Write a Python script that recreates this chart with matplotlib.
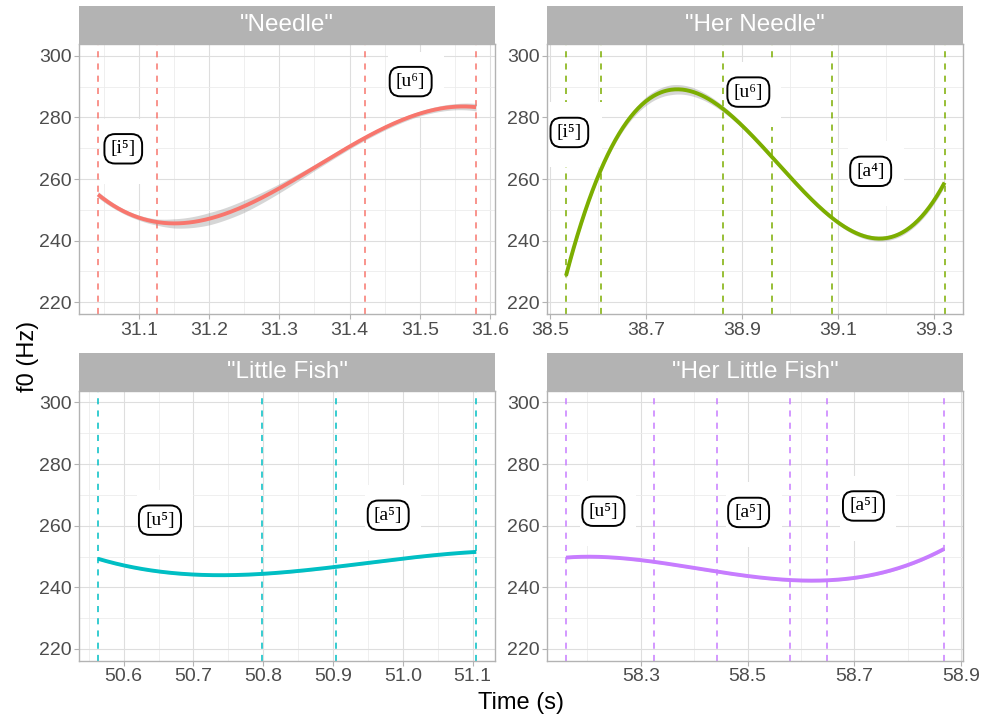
import numpy as np
import matplotlib
matplotlib.use("Agg")
import matplotlib.pyplot as plt
from matplotlib.patches import Rectangle
from matplotlib.transforms import Affine2D, ScaledTranslation

plt.rcParams['font.family'] = ['Liberation Sans', 'DejaVu Sans']

# ---- data ------------------------------------------------------------------
titles = ['"Needle"', '"Her Needle"', '"Little Fish"', '"Her Little Fish"']
colors = ['#F8766D', '#7CAE00', '#00BFC4', '#C77CFF']

# f0 contour (s, Hz)
needle_t = [31.042, 31.07, 31.1, 31.126, 31.15, 31.2, 31.25, 31.3, 31.35, 31.4, 31.45, 31.5, 31.55, 31.58]
needle_f0 = [254.6, 250.6, 248.0, 246.2, 245.6, 247.0, 250.8, 256.7, 263.8, 270.8, 276.8, 281.1, 283.4, 283.3]
needle_se = [1.0, 0.8, 0.8, 1.0, 1.5, 2.0, 2.0, 1.5, 1.0, 0.8, 0.8, 0.8, 1.0, 1.2]

herneedle_t = [38.533, 38.5706, 38.6055, 38.65, 38.7, 38.752, 38.8, 38.861, 38.9, 38.963, 39.0, 39.087, 39.15, 39.188, 39.25, 39.322]
herneedle_f0 = [229.0, 247.5, 263.2, 276.8, 286.0, 288.4, 287.1, 282.2, 278.4, 267.6, 261.1, 246.4, 241.2, 240.5, 245.5, 258.4]
herneedle_se = [1.2, 1.0, 0.8, 1.0, 1.4, 1.6, 1.4, 1.0, 0.8, 0.7, 0.7, 0.7, 0.8, 0.8, 0.9, 1.2]

fish_t = [50.563, 50.6, 50.65, 50.7, 50.743, 50.8, 50.85, 50.9, 50.95, 51.0, 51.05, 51.105]
fish_f0 = [249.1, 247.3, 245.4, 244.1, 243.7, 244.3, 245.4, 246.6, 248.0, 249.3, 250.5, 251.5]
fish_se = [0.4] * 12

herfish_t = [58.16, 58.2, 58.25, 58.3255, 58.4, 58.4424, 58.5, 58.58, 58.61, 58.65, 58.7, 58.75, 58.8, 58.868]
herfish_f0 = [249.7, 249.9, 249.6, 248.3, 246.3, 245.1, 243.8, 242.4, 242.1, 242.2, 243.0, 244.8, 247.3, 252.4]
herfish_se = [0.4] * 14

# segment boundaries (dashed lines)
needle_bounds = [31.042, 31.126, 31.422, 31.580]
herneedle_bounds = [38.533, 38.6055, 38.861, 38.963, 39.087, 39.322]
fish_bounds = [50.563, 50.7975, 50.9035, 51.105]
herfish_bounds = [58.160, 58.3255, 58.4424, 58.580, 58.6497, 58.868]

# tone labels: x, y, text
needle_labels = [(31.078, 269.8, '[i⁵]'), (31.487, 291.6, '[u⁶]')]
herneedle_labels = [(38.540, 275.1, '[i⁵]'), (38.913, 288.2, '[u⁶]'), (39.168, 262.5, '[a⁴]')]
fish_labels = [(50.652, 261.8, '[u⁵]'), (50.979, 263.4, '[a⁵]')]
herfish_labels = [(58.230, 264.7, '[u⁵]'), (58.502, 264.3, '[a⁵]'), (58.717, 266.4, '[a⁵]')]

# x scales per panel
xlims = [(31.015, 31.607), (38.494, 39.361), (50.536, 51.132), (58.125, 58.904)]
major_ticks = [[31.1, 31.2, 31.3, 31.4, 31.5, 31.6], [38.5, 38.7, 38.9, 39.1, 39.3],
               [50.6, 50.7, 50.8, 50.9, 51.0, 51.1], [58.3, 58.5, 58.7, 58.9]]
minor_ticks = [[31.05, 31.15, 31.25, 31.35, 31.45, 31.55], [38.6, 38.8, 39.0, 39.2],
               [50.55, 50.65, 50.75, 50.85, 50.95, 51.05], [58.2, 58.4, 58.6, 58.8]]
y_major = [220, 240, 260, 280, 300]
y_minor = [230, 250, 270, 290]

panels = [
    (needle_t, needle_f0, needle_se, needle_bounds, needle_labels, 3),
    (herneedle_t, herneedle_f0, herneedle_se, herneedle_bounds, herneedle_labels, 4),
    (fish_t, fish_f0, fish_se, fish_bounds, fish_labels, 3),
    (herfish_t, herfish_f0, herfish_se, herfish_bounds, herfish_labels, 4),
]

# ---- figure ----------------------------------------------------------------
fig = plt.figure(figsize=(9.84, 7.18), dpi=100)
W, H = 984, 718
lefts = [79, 547.3]
tops = [44, 390.7]
pw, ph = 416, 270
strip_h = 38
serif = ['Liberation Serif', 'DejaVu Serif']

for i, (t, f0, se, bounds, labels, deg) in enumerate(panels):
    r, c = divmod(i, 2)
    ax = fig.add_axes([lefts[c] / W, 1 - (tops[r] + ph) / H, pw / W, ph / H])

    ax.set_xlim(*xlims[i])
    ax.set_ylim(216.2, 303.8)
    ax.set_xticks(major_ticks[i])
    ax.set_xticks(minor_ticks[i], minor=True)
    ax.set_xticklabels(['%.1f' % v for v in major_ticks[i]])
    ax.set_yticks(y_major)
    ax.set_yticks(y_minor, minor=True)
    ax.grid(which='major', color='#dedede', lw=0.8, zorder=0)
    ax.grid(which='minor', color='#ececec', lw=0.6, zorder=0)
    ax.set_axisbelow(True)
    ax.tick_params(which='major', length=3.5, width=0.8, color='#b3b3b3',
                   labelcolor='#4d4d4d', labelsize=14, pad=2)
    ax.tick_params(which='minor', length=0)
    for sp in ax.spines.values():
        sp.set_color('#b3b3b3')
        sp.set_linewidth(1.0)

    # segment boundaries
    for b in bounds:
        ax.axvline(b, color=colors[i], ls=(0, (4, 4)), lw=1.1, zorder=1)

    # white patches behind labels (pixel-sized, anchored at the label)
    for (lx, ly, txt) in labels:
        tr = Affine2D() + ScaledTranslation(lx, ly, ax.transData)
        ax.add_patch(Rectangle((-23, -35), 56, 65, transform=tr,
                               facecolor='white', edgecolor='none', zorder=2))

    # smoothed contour (cubic/quartic fit, like geom_smooth)
    t = np.array(t)
    tt = np.linspace(t.min(), t.max(), 300)
    fit = np.polyval(np.polyfit(t, f0, deg), tt)
    band = np.interp(tt, t, se)
    ax.fill_between(tt, fit - band, fit + band, color='#999999', alpha=0.4, lw=0, zorder=3)
    ax.plot(tt, fit, color=colors[i], lw=2.8, zorder=4, solid_capstyle='butt')

    for (lx, ly, txt) in labels:
        ax.text(lx, ly, txt, fontsize=14, color='black', family=serif,
                ha='center', va='center',
                bbox=dict(boxstyle='round,pad=0.32,rounding_size=0.55', fc='white',
                          ec='black', lw=1.4), zorder=5)

    # facet strip
    ax.add_patch(Rectangle((0, 1), 1, strip_h / ph, transform=ax.transAxes,
                           facecolor='#b3b3b3', edgecolor='none', clip_on=False))
    ax.text(0.5, 1 + strip_h / ph / 2, titles[i], transform=ax.transAxes,
            ha='center', va='center', color='white', fontsize=17.5)

fig.text(0.028, 0.503, 'f0 (Hz)', rotation=90, ha='center', va='center', fontsize=17)
fig.text(0.529, 0.021, 'Time (s)', ha='center', va='center', fontsize=17)

fig.savefig('out.png', dpi=100, facecolor='white')
